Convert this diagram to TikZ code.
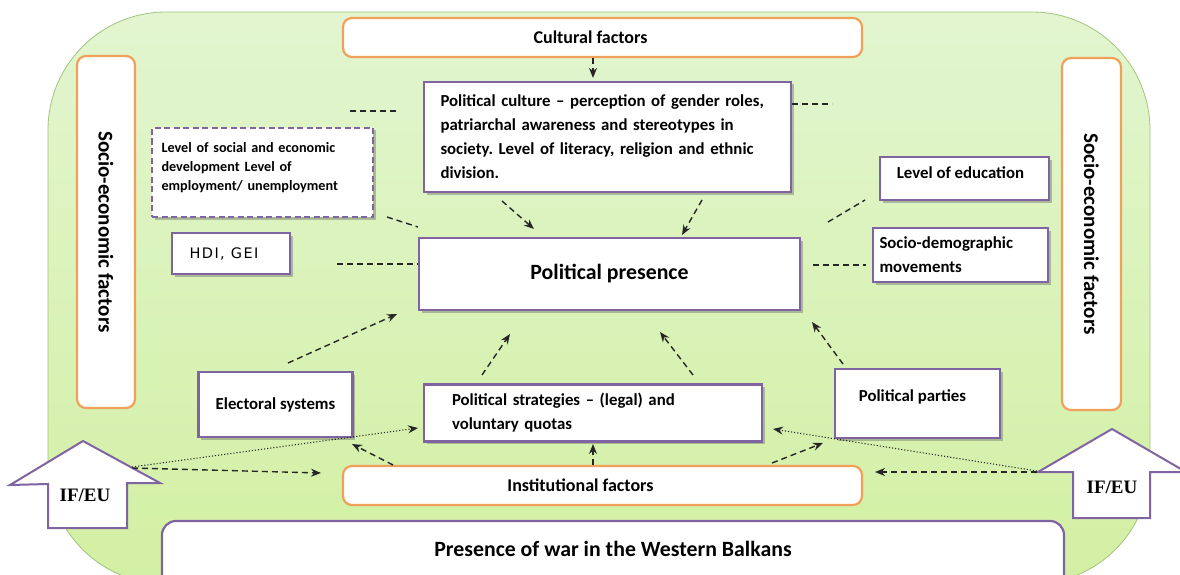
\documentclass[tikz,border=0pt]{standalone}
\usepackage{fontspec}
\setmainfont{Carlito}
\newfontfamily\timesf{Liberation Serif}
\newfontfamily\dejavuf[LetterSpace=10]{DejaVu Sans}
\usetikzlibrary{arrows.meta,shadows}
\frenchspacing
\definecolor{gfillt}{HTML}{E2F5D0}
\definecolor{gfillb}{HTML}{D2F0A2}
\definecolor{gline}{HTML}{A3C47A}
\definecolor{purp}{HTML}{8064A2}
\definecolor{oran}{HTML}{F0A058}
\newcommand\fsz[2]{\fontsize{#1}{#2}\selectfont}
\tikzset{
  shad/.style={drop shadow={shadow xshift=2.5pt,shadow yshift=-2.5pt,opacity=0.35,fill=black!70}},
  pbox/.style={draw=purp, line width=2.2pt, fill=white, shad, inner sep=0pt, font=\bfseries\fsz{16.8}{24}},
  obox/.style={draw=oran, line width=2.2pt, fill=white, rounded corners=9pt, inner sep=0pt, font=\bfseries\fsz{18}{20}},
  dline/.style={dash pattern=on 6pt off 4pt, line width=1.4pt, black!85},
  darr/.style={dline, -{Stealth[length=10pt,width=8pt]}},
  dotarr/.style={dotted, line width=1.1pt, black!85, -{Stealth[length=10pt,width=8pt]}},
  ifarrow/.style={draw=purp, line width=2pt, fill=white},
  iftext/.style={font=\timesf\bfseries\fsz{19}{20}}
}
\begin{document}
\begin{tikzpicture}[x=1pt,y=-1pt]
\useasboundingbox (0,0) rectangle (1180,575);
\fill[white] (0,0) rectangle (1180,575);
% green background
\path[draw=gline, line width=0.8pt, top color=gfillt, bottom color=gfillb, rounded corners=118pt] (48,12) rectangle (1150,584);

% orange boxes
\node[obox, minimum width=519pt, minimum height=39pt] (cult) at (602.5,37.5) {Cultural factors\hspace*{24pt}};
\node[obox, minimum width=519pt, minimum height=39pt] (inst) at (602.5,485.5) {Institutional factors\hspace*{44pt}};
\node[obox, rotate=-90, minimum width=352pt, minimum height=58pt, font=\bfseries\fsz{21}{24}] (seL) at (106,232) {Socio-economic factors};
\node[obox, rotate=-90, minimum width=352pt, minimum height=59pt, font=\bfseries\fsz{21}{24}] (seR) at (1091.5,234) {Socio-economic factors};

% purple boxes
\node[pbox, minimum width=367pt, minimum height=110pt, text width=334pt, align=left] (pc) at (607.5,137)
  {Political culture -- perception of gender roles,\\patriarchal awareness and stereotypes in\\society. Level of literacy, religion and ethnic\\division.};
\node[pbox, minimum width=381pt, minimum height=72pt, font=\bfseries\fsz{21.8}{24}] (pp) at (609.5,274) {Political presence};
\node[draw=purp, line width=2.2pt, dash pattern=on 6pt off 3.5pt, fill=white, shad, inner sep=0pt,
  minimum width=221pt, minimum height=89pt, text width=202pt, align=left, font=\bfseries\fsz{14.2}{19}] (lse) at (262.5,172.5)
  {Level of social and economic\\development Level of\\employment/ unemployment\rule[-12pt]{0pt}{1pt}};
\node[pbox, minimum width=118pt, minimum height=41pt, font=\dejavuf\fsz{14.5}{16}] (hdi) at (231,253.5) {HDI, GEI\hspace*{14pt}};
\node[pbox, minimum width=169pt, minimum height=43pt, text height=12pt, text depth=12pt] (edu) at (964.5,178.5) {Level of education\hspace*{8pt}};
\node[pbox, minimum width=175pt, minimum height=54pt, text width=162pt, align=left] (sdm) at (960.5,255) {Socio-demographic\\movements};
\node[pbox, minimum width=154pt, minimum height=65pt] (ele) at (275.5,404.5) {Electoral systems};
\node[pbox, minimum width=338pt, minimum height=57pt, text width=282pt, align=left] (pst) at (593,413)
  {Political strategies -- (legal) and\\voluntary quotas};
\node[pbox, minimum width=165pt, minimum height=69pt, text height=12pt, text depth=17pt] (par) at (917.5,403.5) {Political parties\hspace*{10pt}};
\node[draw=purp, line width=2.2pt, fill=white, rounded corners=14pt, minimum width=902pt, minimum height=70pt,
  text height=12pt, text depth=12pt, font=\bfseries\fsz{21.8}{24}] (war) at (613,556) {Presence of war in the Western Balkans};

% IF/EU arrows
\draw[ifarrow] (83,441) -- (160,483) -- (127,483) -- (127,528) -- (48,528) -- (48,484) -- (10,485) -- cycle;
\node[iftext] (ifl) at (85,495) {IF/EU};
\draw[ifarrow] (1112,429) -- (1186,472) -- (1150,472) -- (1150,518) -- (1073,518) -- (1073,472) -- (1038,472) -- cycle;
\node[iftext] (ifr) at (1112,487) {IF/EU};

% named free ends
\coordinate (cx) at (593,0);
\coordinate (d1a) at (350,111); \coordinate (d1b) at (398,111);
\coordinate (d2a) at (792,104); \coordinate (d2b) at (832,104);
\coordinate (d3a) at (387,217); \coordinate (d3b) at (418,227);
\coordinate (d4a) at (337,264); \coordinate (d4b) at (418,264);
\coordinate (d5a) at (828,222); \coordinate (d5b) at (865,200);
\coordinate (d6a) at (813,265); \coordinate (d6b) at (866,265);
\coordinate (a1s) at (502,201); \coordinate (a1e) at (534,229);
\coordinate (a2s) at (702,200); \coordinate (a2e) at (682,235);
\coordinate (a3s) at (288,363); \coordinate (a3e) at (397,314);
\coordinate (a4s) at (482,375); \coordinate (a4e) at (510,334);
\coordinate (a5s) at (693,375); \coordinate (a5e) at (660,332);
\coordinate (a6s) at (843,364); \coordinate (a6e) at (812,322);
\coordinate (a7s) at (393,465); \coordinate (a7e) at (352,444);
\coordinate (a8s) at (593,465); \coordinate (a8e) at (593,444);
\coordinate (a9s) at (772,463); \coordinate (a9e) at (823,443);
\coordinate (ifls) at (132,468);
\coordinate (a10e) at (321,473);
\coordinate (a11e) at (418,428);
\coordinate (ifrs) at (1037,472);
\coordinate (a12e) at (875,472);
\coordinate (a13e) at (773,429);

% plain dashed links
\draw[dline] (d1a) -- (d1b);
\draw[dline] (d2a) -- (d2b);
\draw[dline] (d3a) -- (d3b);
\draw[dline] (d4a) -- (d4b);
\draw[dline] (d5a) -- (d5b);
\draw[dline] (d6a) -- (d6b);

% arrows
\draw[darr] (cult.south -| cx) -- ([yshift=3pt]pc.north -| cx);
\draw[darr] (a1s) -- (a1e);
\draw[darr] (a2s) -- (a2e);
\draw[darr] (a3s) -- (a3e);
\draw[darr] (a4s) -- (a4e);
\draw[darr] (a5s) -- (a5e);
\draw[darr] (a6s) -- (a6e);
\draw[darr] (a7s) -- (a7e);
\draw[darr] (a8s) -- (a8e);
\draw[darr] (a9s) -- (a9e);
\draw[darr] (ifls) -- (a10e);
\draw[dotarr] ([yshift=1pt]ifls) -- (a11e);
\draw[darr] (ifrs) -- (a12e);
\draw[dotarr] ([yshift=1pt]ifrs) -- (a13e);
\end{tikzpicture}
\end{document}
